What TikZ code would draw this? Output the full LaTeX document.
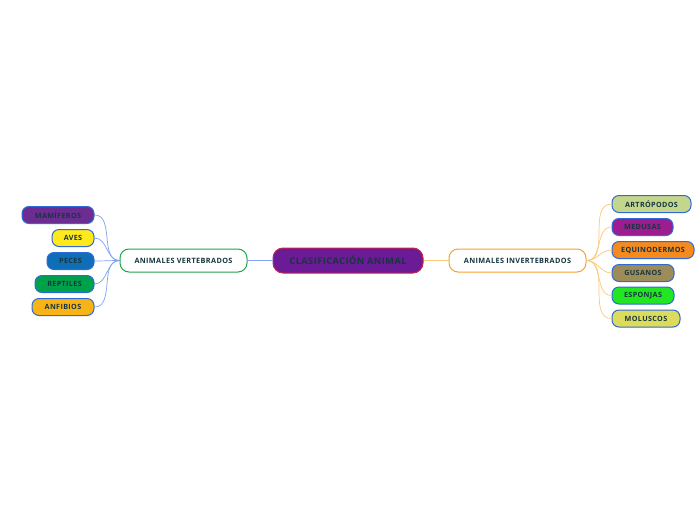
\documentclass[tikz,border=0pt]{standalone}
\usepackage{fontspec}
\setmainfont{Open Sans}[LetterSpace=5]
\usepackage{tikz}
\definecolor{leafB}{HTML}{2F6AD6}
\definecolor{txtC}{HTML}{17363F}
\definecolor{rootF}{HTML}{6A1B95}
\definecolor{rootB}{HTML}{C8254E}
\definecolor{vertB}{HTML}{22A34C}
\definecolor{invB}{HTML}{F5A42A}
\definecolor{vLine}{HTML}{7FA2F2}
\definecolor{iLine}{HTML}{FBC97A}
\definecolor{mamF}{HTML}{6B2D92}
\definecolor{aveF}{HTML}{FFE91C}
\definecolor{pezF}{HTML}{0F6EB8}
\definecolor{repF}{HTML}{00A14B}
\definecolor{anfF}{HTML}{F8B417}
\definecolor{artF}{HTML}{C4D68C}
\definecolor{medF}{HTML}{9B1D8F}
\definecolor{equF}{HTML}{F58A1F}
\definecolor{gusF}{HTML}{9E8B5A}
\definecolor{espF}{HTML}{22E622}
\definecolor{molF}{HTML}{DCDB5C}
\tikzset{
  leaf/.style   ={draw=leafB, fill=#1, line width=1pt, rounded corners=7pt, minimum height=17pt,
                  inner sep=0pt, text=txtC, font=\fontsize{7.2}{8}\selectfont\bfseries},
  branch/.style ={draw=#1, fill=white, line width=1pt, rounded corners=9pt, minimum height=23pt,
                  inner sep=0pt, text=txtC, font=\fontsize{7.3}{8}\selectfont\bfseries},
  root/.style   ={draw=rootB, fill=rootF, line width=1pt, rounded corners=10pt, minimum height=25pt,
                  minimum width=150pt, inner sep=0pt, text=txtC, font=\fontsize{9.2}{10}\selectfont\bfseries},
  vlink/.style  ={draw=vLine, line width=0.7pt},
  ilink/.style  ={draw=iLine, line width=0.7pt},
}

\begin{document}
\begin{tikzpicture}[x=1pt, y=-1pt]
  \fill[white] (0,0) rectangle (696,520);
  % centre
  \node[root] (clas) at (348,260.5) {CLASIFICACIÓN ANIMAL};
  \node[branch=vertB, minimum width=127pt] (vert) at (183.5,260.5) {ANIMALES VERTEBRADOS};
  \node[branch=invB, minimum width=137pt] (inv) at (517.5,260.5) {ANIMALES INVERTEBRADOS};
  \draw[vlink, line width=1.1pt] (clas.west) -- (vert.east);
  \draw[ilink, line width=1.1pt] (clas.east) -- (inv.west);
  % vertebrados
  \node[leaf=mamF, minimum width=72pt] (mam) at (58,215)   {MAMÍFEROS};
  \node[leaf=aveF, minimum width=42pt] (ave) at (73,238)   {AVES};
  \node[leaf=pezF, minimum width=47pt] (pez) at (70.5,261) {PECES};
  \node[leaf=repF, minimum width=59pt] (rep) at (64.5,284) {REPTILES};
  \node[leaf=anfF, minimum width=62pt] (anf) at (63,307)   {ANFIBIOS};
  \foreach \n in {mam,ave,pez,rep,anf}{ \draw[vlink] (vert.west) to[out=180,in=0] (\n.east); }
  % invertebrados
  \node[leaf=artF, minimum width=79pt] (art) at (651.5,204) {ARTRÓPODOS};
  \node[leaf=medF, minimum width=61pt] (med) at (642.5,227) {MEDUSAS};
  \node[leaf=equF, minimum width=82pt] (equ) at (653,250)   {EQUINODERMOS};
  \node[leaf=gusF, minimum width=62pt] (gus) at (643,273)   {GUSANOS};
  \node[leaf=espF, minimum width=62pt] (esp) at (643,295.5) {ESPONJAS};
  \node[leaf=molF, minimum width=68pt] (mol) at (646,318.5) {MOLUSCOS};
  \foreach \n in {art,med,equ,gus,esp,mol}{ \draw[ilink] (inv.east) to[out=0,in=180] (\n.west); }
\end{tikzpicture}
\end{document}
